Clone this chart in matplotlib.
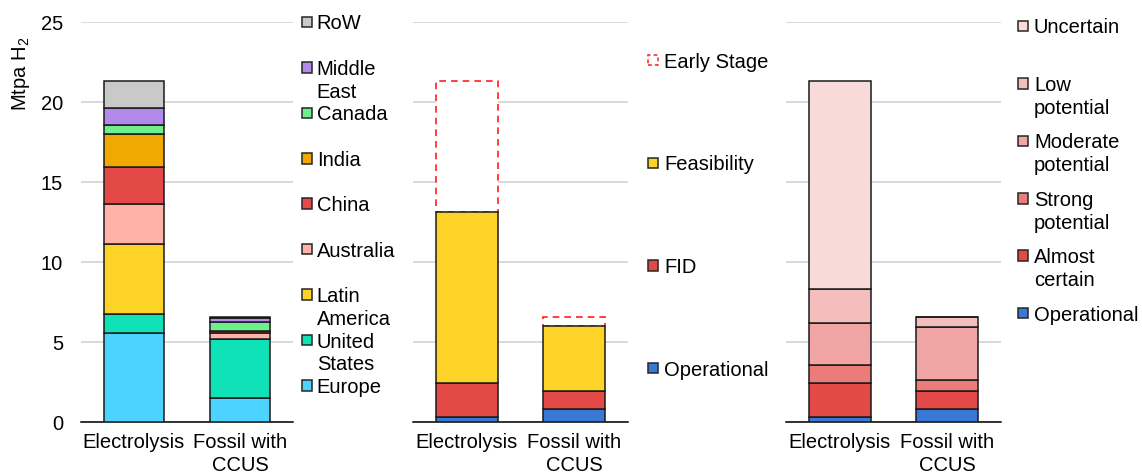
import numpy as np
import matplotlib
matplotlib.use("Agg")
import matplotlib.pyplot as plt
from matplotlib.patches import Rectangle
from matplotlib.transforms import blended_transform_factory

plt.rcParams['font.family'] = ['Liberation Sans', 'DejaVu Sans']
plt.rcParams['mathtext.fontset'] = 'custom'
plt.rcParams['mathtext.rm'] = 'Liberation Sans'
plt.rcParams['mathtext.it'] = 'Liberation Sans:italic'

# data (Mtpa H2)
categories = ['Electrolysis', 'Fossil with\nCCUS']

region_labels = ['Europe', 'United\nStates', 'Latin\nAmerica', 'Australia', 'China',
                 'India', 'Canada', 'Middle\nEast', 'RoW']
region_electrolysis = [5.60, 1.19, 4.34, 2.53, 2.32, 2.04, 0.58, 1.04, 1.71]
region_fossil = [1.54, 3.65, 0.00, 0.41, 0.08, 0.00, 0.60, 0.23, 0.07]

stage_labels = ['Operational', 'FID', 'Feasibility', 'Early Stage']
stage_electrolysis = [0.31, 2.13, 10.70, 8.21]
stage_fossil = [0.81, 1.17, 4.04, 0.56]

likely_labels = ['Operational', 'Almost\ncertain', 'Strong\npotential',
                 'Moderate\npotential', 'Low\npotential', 'Uncertain']
likely_electrolysis = [0.31, 2.13, 1.12, 2.63, 2.16, 13.00]
likely_fossil = [0.81, 1.17, 0.64, 3.36, 0.60, 0.00]

# styles
region_colors = ['#4DD3FF', '#10E2B8', '#FDD327', '#FFB3A8', '#E34A47',
                 '#F0A900', '#6DF08C', '#B389EC', '#C9C9C9']
stage_colors = ['#3A78D6', '#E34A47', '#FDD327', 'white']
likely_colors = ['#3A78D6', '#E34A47', '#EC7C7A', '#F1A5A5', '#F4BEBD', '#F8DAD9']
dash_red = '#FF1F1F'
FS = 14.5
LS = 1.25
W = 0.575

fig = plt.figure(figsize=(11.42, 4.73), dpi=100)
px = 1 / 1142
ax1 = fig.add_axes([81 * px, 1 - 422.3 / 473, 212 * px, 400 / 473])
ax2 = fig.add_axes([413 * px, 1 - 422.3 / 473, 215 * px, 400 / 473])
ax3 = fig.add_axes([786 * px, 1 - 422.3 / 473, 215 * px, 400 / 473])


def style_axis(ax, show_y):
    ax.set_xlim(-0.5, 1.5)
    ax.set_ylim(0, 25)
    ax.set_yticks([0, 5, 10, 15, 20, 25])
    ax.grid(axis='y', color='#D9D9D9', lw=1.4)
    ax.set_axisbelow(True)
    for s in ['top', 'right', 'left']:
        ax.spines[s].set_visible(False)
    ax.spines['bottom'].set_color('black')
    ax.spines['bottom'].set_linewidth(1.1)
    ax.set_xticks(range(len(categories)))
    ax.set_xticklabels(categories, fontsize=FS, linespacing=LS)
    ax.tick_params(axis='x', length=0, pad=8)
    ax.tick_params(axis='y', length=0, pad=13, labelsize=FS)
    if not show_y:
        ax.set_yticklabels([])


def stacked(ax, elec, fossil, colors, dashed=None):
    x = np.arange(len(categories))
    bottom = np.zeros(len(categories))
    for i, (a, b) in enumerate(zip(elec, fossil)):
        vals = np.array([a, b])
        if dashed is not None and i == dashed:
            ax.bar(x, vals, W, bottom=bottom, color='white', edgecolor=dash_red,
                   lw=1.2, linestyle=(0, (4, 3)), zorder=2)
        else:
            ax.bar(x, vals, W, bottom=bottom, color=colors[i], edgecolor='#1A1A1A',
                   lw=1.1, zorder=3)
        bottom += vals


def legend(ax, labels, colors, ys, xbox, xtext, dashed=None):
    tr = blended_transform_factory(ax.transAxes, ax.transData)
    bw = 10.5 / ax.bbox.width
    bh = 10.5 / 16
    for i, (lab, c, y) in enumerate(zip(labels, colors, ys)):
        if dashed is not None and i == dashed:
            r = Rectangle((xbox, y - bh / 2), bw, bh, transform=tr, clip_on=False,
                          facecolor='white', edgecolor=dash_red, lw=1.1,
                          linestyle=(0, (2.5, 2)))
        else:
            r = Rectangle((xbox, y - bh / 2), bw, bh, transform=tr, clip_on=False,
                          facecolor=c, edgecolor='#262626', lw=1.1)
        ax.add_patch(r)
        # keep the first text line level with the swatch
        nl = lab.count('\n')
        ax.text(xtext, y - nl * 9.5 / 16, lab, transform=tr, fontsize=FS,
                va='center_baseline', ha='left', linespacing=LS)


style_axis(ax1, True)
style_axis(ax2, False)
style_axis(ax3, False)

stacked(ax1, region_electrolysis, region_fossil, region_colors)
stacked(ax2, stage_electrolysis, stage_fossil, stage_colors, dashed=3)
stacked(ax3, likely_electrolysis, likely_fossil, likely_colors)

ax1.set_ylabel('Mtpa H$_2$', fontsize=FS)
ax1.yaxis.set_label_coords(-0.285, 0.87)
ax1.yaxis.label.set_va('center')

# legend positions (data units on y, top entry first)
y_reg = [25.02 - 2.84 * k for k in range(9)][::-1]
legend(ax1, region_labels, region_colors, y_reg, 1.041, 1.112)

y_stage = [22.64 - 6.42 * k for k in range(4)][::-1]
legend(ax2, stage_labels, stage_colors, y_stage, 1.092, 1.167, dashed=3)

y_likely = [24.77 - 3.59 * k for k in range(6)][::-1]
legend(ax3, likely_labels, likely_colors, y_likely, 1.079, 1.153)

fig.savefig('out.png', dpi=100)
